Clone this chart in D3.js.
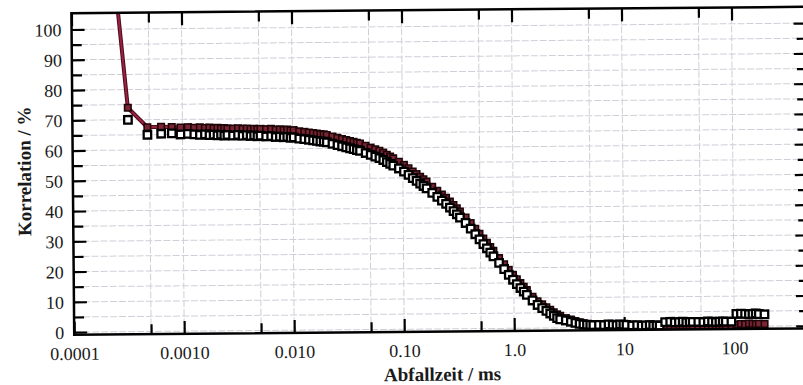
<!DOCTYPE html>
<html>
<head>
<meta charset="utf-8">
<script src="https://cdn.jsdelivr.net/npm/d3@7"></script>
<style>
  html, body { margin: 0; padding: 0; background: #fff; }
  svg { display: block; }
</style>
</head>
<body>
<svg id="chart" width="803" height="385"></svg>
<script>
// Lag times of the multi-tau correlator (ms)
const lagTimes = [
  0.00016, 0.00032, 0.00048, 0.00064, 0.0008, 0.00096, 0.00112, 0.00128, 0.00144, 0.0016, 0.00176, 0.00192, 0.00208, 0.00224, 0.0024, 0.00256,
  0.00288, 0.0032, 0.00352, 0.00384, 0.00416, 0.00448, 0.0048, 0.00512,
  0.00576, 0.0064, 0.00704, 0.00768, 0.00832, 0.00896, 0.0096, 0.01024,
  0.01152, 0.0128, 0.01408, 0.01536, 0.01664, 0.01792, 0.0192, 0.02048,
  0.02304, 0.0256, 0.02816, 0.03072, 0.03328, 0.03584, 0.0384, 0.04096,
  0.04608, 0.0512, 0.05632, 0.06144, 0.06656, 0.07168, 0.0768, 0.08192,
  0.09216, 0.1024, 0.1126, 0.1229, 0.1331, 0.1434, 0.1536, 0.1638,
  0.1843, 0.2048, 0.2253, 0.2458, 0.2662, 0.2867, 0.3072, 0.3277,
  0.3686, 0.4096, 0.4506, 0.4915, 0.5325, 0.5734, 0.6144, 0.6554,
  0.7373, 0.8192, 0.9011, 0.983, 1.065, 1.147, 1.229, 1.311,
  1.475, 1.638, 1.802, 1.966, 2.13, 2.294, 2.458, 2.621,
  2.949, 3.277, 3.604, 3.932, 4.26, 4.588, 4.915, 5.243,
  5.898, 6.554, 7.209, 7.864, 8.52, 9.175, 9.83, 10.49,
  11.8, 13.11, 14.42, 15.73, 17.04, 18.35, 19.66, 20.97,
  23.59, 26.21, 28.84, 31.46, 34.08, 36.7, 39.32, 41.94,
  47.19, 52.43, 57.67, 62.91, 68.16, 73.4, 78.64, 83.89,
  94.37, 104.9, 115.3, 125.8, 136.3, 146.8, 157.3, 167.8,
  188.7
];

// Correlation (%) — open square series
const corrSquares = [
  175, 70.0, 65.0, 65.3, 65.4, 65.0, 65.2, 65.0, 64.8, 65.0, 64.7, 64.9, 64.6, 64.8, 64.5, 64.7,
  64.5, 64.7, 64.4, 64.6, 64.3, 64.5, 64.2, 64.4,
  64.1, 64.2, 63.9, 64.0, 63.8, 63.9, 63.6, 63.7,
  63.3, 63.1, 62.9, 62.7, 62.5, 62.3, 62.2, 62.0,
  61.5, 61.05, 60.65, 60.3, 59.95, 59.65, 59.35, 59.1,
  58.35, 57.7, 57.15, 56.65, 56.0, 55.3, 54.7, 54.1,
  53.15, 52.1, 51.0, 49.9, 49.0, 48.1, 47.3, 46.5,
  45.0, 43.65, 42.4, 41.3, 40.05, 38.9, 37.8, 36.75,
  34.95, 33.05, 31.2, 29.5, 27.9, 26.5, 25.1, 23.85,
  21.65, 19.6, 17.7, 16.05, 14.6, 13.3, 12.1, 11.0,
  9.15, 7.65, 6.6, 5.65, 4.8, 4.0, 3.25, 2.8,
  2.45, 2.0, 1.6, 1.3, 1.1, 1.0, 0.9, 0.85,
  0.9, 0.8, 1.0, 0.9, 0.8, 1.0, 0.9, 0.8,
  0.6, 0.7, 0.5, 0.6, 0.7, 0.5, 0.6, 0.5,
  1.6, 1.7, 1.5, 1.6, 1.7, 1.5, 1.6, 1.6,
  1.6, 1.5, 1.7, 1.6, 1.5, 1.6, 1.7, 1.6,
  1.6, 4.1, 4.2, 4.1, 4.0, 4.1, 4.2, 4.0,
  3.9
];

// Correlation (%) — dark red trace
const corrTrace = [
  190, 74.0, 67.5, 67.6, 67.5, 67.3, 67.4, 67.2, 67.3, 67.1, 67.2, 67.0, 67.1, 66.9, 67.0, 66.8,
  66.8, 66.9, 66.7, 66.8, 66.6, 66.7, 66.5, 66.6,
  66.5, 66.6, 66.3, 66.4, 66.2, 66.3, 66.0, 66.1,
  65.7, 65.5, 65.3, 65.1, 64.9, 64.7, 64.6, 64.4,
  63.9, 63.45, 63.05, 62.7, 62.35, 62.05, 61.75, 61.5,
  60.75, 60.1, 59.55, 59.05, 58.4, 57.7, 57.1, 56.5,
  55.35, 54.3, 53.2, 52.1, 51.2, 50.3, 49.5, 48.7,
  47.0, 45.65, 44.4, 43.3, 42.05, 40.9, 39.8, 38.75,
  36.75, 34.85, 33.0, 31.3, 29.7, 28.3, 26.9, 25.65,
  23.25, 21.2, 19.3, 17.65, 16.2, 14.9, 13.7, 12.6,
  10.35, 8.85, 7.8, 6.85, 6.0, 5.2, 4.45, 4.0,
  3.2, 2.7, 2.2, 1.8, 1.4, 1.1, 0.9, 0.7,
  0.6, 0.5, 0.6, 0.5, 0.4, 0.5, 0.4, 0.5,
  0.4, 0.5, 0.3, 0.4, 0.5, 0.3, 0.4, 0.3,
  0.3, 0.4, 0.2, 0.3, 0.4, 0.3, 0.2, 0.3,
  0.2, 0.3, 0.2, 0.1, 0.2, 0.3, 0.2, 0.1,
  0.3, 0.6, 0.8, 0.7, 0.9, 0.8, 0.7, 0.8,
  0.7
];

// Axis ticks and labels
const xMajorTicks = [1e-4, 1e-3, 1e-2, 1e-1, 1, 10, 100];
const xTickLabels = ["0.0001", "0.0010", "0.010", "0.10", "1.0", "10", "100"];
const xMinorTicks = [5e-4, 5e-3, 5e-2, 0.5, 5, 50];
const yMajorTicks = [0, 10, 20, 30, 40, 50, 60, 70, 80, 90, 100];
const yMinorTicks = [5, 15, 25, 35, 45, 55, 65, 75, 85, 95];
const xTitle = "Abfallzeit / ms";
const yTitle = "Korrelation / %";

// Plot geometry
const L = 73, R = 808, T = 10.3, B = 332;
const serif = "'Liberation Serif', 'Times New Roman', serif";

const x = d3.scaleLog().domain([1e-4, 480]).range([L, R]);
const y = d3.scaleLinear().domain([-0.9, 105.4]).range([B, T]);

const svg = d3.select("#chart");
svg.append("rect").attr("width", 803).attr("height", 385).attr("fill", "#fff");

// the whole sheet sits slightly tilted
const root = svg.append("g").attr("transform", "rotate(-0.5 401.5 192.5)");

root.append("defs").append("clipPath").attr("id", "plot-clip")
  .append("rect").attr("x", L).attr("y", T).attr("width", R - L).attr("height", B - T);

// grid
const grid = root.append("g")
  .attr("stroke", "#d3cdd7").attr("stroke-width", 1).attr("stroke-dasharray", "7,2");
grid.selectAll("line.gv").data(xMajorTicks.concat(xMinorTicks)).join("line")
  .attr("class", "gv")
  .attr("x1", d => x(d)).attr("x2", d => x(d)).attr("y1", T).attr("y2", B);
grid.selectAll("line.gh").data(yMajorTicks.concat(yMinorTicks)).join("line")
  .attr("class", "gh")
  .attr("x1", L).attr("x2", R).attr("y1", d => y(d)).attr("y2", d => y(d));

// axes (ticks pointing into the plot)
function styleAxis(g, w) {
  g.select(".domain").remove();
  g.selectAll(".tick line").attr("stroke", "#000").attr("stroke-width", w);
  g.selectAll("text").attr("font-family", serif).attr("font-size", 18).attr("fill", "#1a1a1a");
}

const bottomMajor = root.append("g").attr("transform", `translate(0,${B})`)
  .call(d3.axisBottom(x).tickValues(xMajorTicks).tickFormat((d, i) => xTickLabels[i])
    .tickSizeInner(-13).tickSizeOuter(0));
styleAxis(bottomMajor, 2.2);
bottomMajor.selectAll("text").attr("y", 25).attr("dy", 0);

const bottomMinor = root.append("g").attr("transform", `translate(0,${B})`)
  .call(d3.axisBottom(x).tickValues(xMinorTicks).tickFormat("").tickSizeInner(-10).tickSizeOuter(0));
styleAxis(bottomMinor, 2.2);

const topMajor = root.append("g").attr("transform", `translate(0,${T})`)
  .call(d3.axisTop(x).tickValues(xMajorTicks).tickFormat("").tickSizeInner(-13).tickSizeOuter(0));
styleAxis(topMajor, 2.2);
const topMinor = root.append("g").attr("transform", `translate(0,${T})`)
  .call(d3.axisTop(x).tickValues(xMinorTicks).tickFormat("").tickSizeInner(-10).tickSizeOuter(0));
styleAxis(topMinor, 2.2);

const leftMajor = root.append("g").attr("transform", `translate(${L},0)`)
  .call(d3.axisLeft(y).tickValues(yMajorTicks).tickFormat(d3.format("d"))
    .tickSizeInner(-13).tickSizeOuter(0).tickPadding(10));
styleAxis(leftMajor, 2.2);
leftMajor.selectAll("text").attr("dy", "0.34em");

const leftMinor = root.append("g").attr("transform", `translate(${L},0)`)
  .call(d3.axisLeft(y).tickValues(yMinorTicks).tickFormat("").tickSizeInner(-10).tickSizeOuter(0));
styleAxis(leftMinor, 2.2);

const rightMajor = root.append("g").attr("transform", `translate(${R},0)`)
  .call(d3.axisRight(y).tickValues(yMajorTicks).tickFormat("").tickSizeInner(-13).tickSizeOuter(0));
styleAxis(rightMajor, 2.2);
const rightMinor = root.append("g").attr("transform", `translate(${R},0)`)
  .call(d3.axisRight(y).tickValues(yMinorTicks).tickFormat("").tickSizeInner(-10).tickSizeOuter(0));
styleAxis(rightMinor, 2.2);

// data
const pts = lagTimes.map((t, i) => ({ t, a: corrSquares[i], b: corrTrace[i] }));
const plot = root.append("g").attr("clip-path", "url(#plot-clip)");

const traceLine = d3.line().x(d => x(d.t)).y(d => y(d.b));
plot.append("path").datum(pts)
  .attr("d", traceLine)
  .attr("fill", "none").attr("stroke", "#4a0c1c").attr("stroke-width", 4)
  .attr("stroke-linejoin", "round");
plot.append("path").datum(pts)
  .attr("d", traceLine)
  .attr("fill", "none").attr("stroke", "#9a2040").attr("stroke-width", 2)
  .attr("stroke-linejoin", "round");

const sb = 6.5;
plot.append("g").selectAll("rect").data(pts).join("rect")
  .attr("x", d => x(d.t) - sb / 2).attr("y", d => y(d.b) - sb / 2)
  .attr("width", sb).attr("height", sb)
  .attr("fill", "#7a2434").attr("stroke", "#1e0508").attr("stroke-width", 1.6);

const sa = 7.5;
plot.append("g").selectAll("rect").data(pts).join("rect")
  .attr("x", d => x(d.t) - sa / 2).attr("y", d => y(d.a) - sa / 2)
  .attr("width", sa).attr("height", sa)
  .attr("fill", "#fff").attr("stroke", "#000").attr("stroke-width", 2.3);

// frame
root.append("rect").attr("x", L).attr("y", T).attr("width", R - L).attr("height", B - T)
  .attr("fill", "none").attr("stroke", "#000").attr("stroke-width", 2.5);

// axis titles
root.append("text").attr("x", 441).attr("y", 381)
  .attr("text-anchor", "middle").attr("font-family", serif).attr("font-weight", "bold")
  .attr("font-size", 19).attr("fill", "#1a1a1a").text(xTitle);

root.append("text").attr("transform", "translate(31,168) rotate(-90)")
  .attr("text-anchor", "middle").attr("font-family", serif).attr("font-weight", "bold")
  .attr("font-size", 19).attr("fill", "#1a1a1a").text(yTitle);
</script>
</body>
</html>
